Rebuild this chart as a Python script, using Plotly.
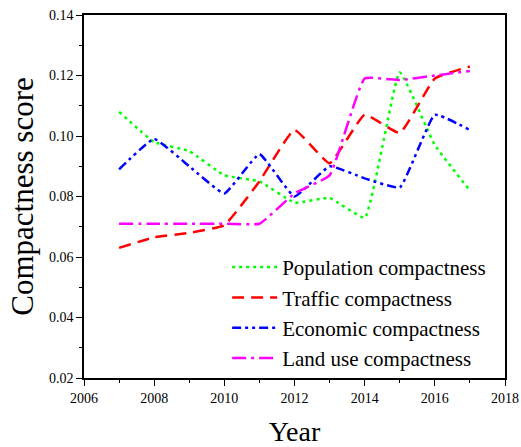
import plotly.graph_objects as go

years = [2007, 2008, 2009, 2010, 2011, 2012, 2013, 2014, 2015, 2016, 2017]
population = [0.108, 0.098, 0.095, 0.087, 0.085, 0.078, 0.0795, 0.073, 0.121, 0.097, 0.082]
traffic = [0.063, 0.0665, 0.068, 0.0705, 0.085, 0.102, 0.091, 0.107, 0.101, 0.119, 0.123]
economic = [0.089, 0.099, 0.090, 0.081, 0.094, 0.080, 0.090, 0.086, 0.083, 0.107, 0.102]
land_use = [0.071, 0.071, 0.071, 0.071, 0.071, 0.081, 0.087, 0.119, 0.1185, 0.120, 0.1215]

series_names = ["Population compactness", "Traffic compactness",
                "Economic compactness", "Land use compactness"]
colors = ["#00ff00", "#ff0000", "#0000ff", "#ff00ff"]
dashes = ["3px,4px", "12px,7px", "9px,4px,3px,4px,3px,4px", "14px,5px,3px,5px"]

fig = go.Figure()
for name, vals, c, d in zip(series_names, [population, traffic, economic, land_use], colors, dashes):
    fig.add_trace(go.Scatter(
        x=years, y=vals, mode="lines", name=name,
        line=dict(color=c, width=2.5, dash=d, shape="spline", smoothing=0.35),
    ))

font_family = "Liberation Serif"
fig.update_layout(
    width=521, height=447,
    margin=dict(l=84, r=16, t=15, b=69),
    paper_bgcolor="white", plot_bgcolor="white",
    font=dict(family=font_family, color="black"),
    showlegend=True,
    legend=dict(
        x=0.34, y=0.361, xanchor="left", yanchor="top",
        bgcolor="rgba(0,0,0,0)", borderwidth=0,
        font=dict(size=21, family=font_family),
        itemwidth=45,
    ),
)
fig.update_xaxes(
    range=[2006, 2018], tickmode="linear", tick0=2006, dtick=2,
    ticks="outside", ticklen=6, tickwidth=1.2, tickcolor="black",
    minor=dict(dtick=1, ticks="outside", ticklen=3, tickcolor="black", tickwidth=1),
    showline=True, linecolor="black", linewidth=1.5, mirror=True,
    showgrid=False, zeroline=False, automargin=False,
    tickfont=dict(size=14, family=font_family),
    title=dict(text="Year", font=dict(size=28, family=font_family), standoff=18),
)
fig.update_yaxes(
    range=[0.02, 0.14], tickmode="linear", tick0=0.02, dtick=0.02, tickformat=".2f",
    ticks="outside", ticklen=6, tickwidth=1.2, tickcolor="black",
    minor=dict(dtick=0.01, ticks="outside", ticklen=3, tickcolor="black", tickwidth=1),
    showline=True, linecolor="black", linewidth=1.5, mirror=True,
    showgrid=False, zeroline=False, automargin=False,
    tickfont=dict(size=14, family=font_family),
    title=dict(text="Compactness score", font=dict(size=31, family=font_family), standoff=6),
)

fig.write_html(
    "out.html",
    config={"displayModeBar": False},
    post_script="document.documentElement.style.margin='0';document.body.style.margin='0';",
)
